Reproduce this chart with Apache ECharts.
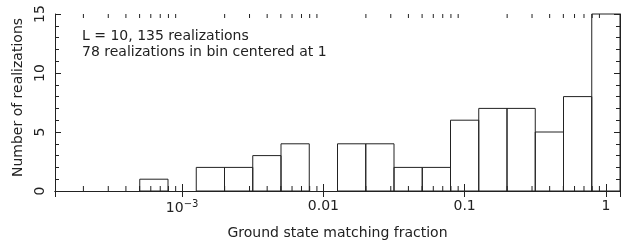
<!DOCTYPE html>
<html>
<head>
<meta charset="utf-8">
<script src="https://cdn.jsdelivr.net/npm/echarts@6/dist/echarts.min.js"></script>
<style>
html, body { margin: 0; padding: 0; background: #fff; }
#chart { width: 623px; height: 241px; }
</style>
</head>
<body>
<div id="chart"></div>
<script>
// bin centres, as log10 of the matching fraction (5 bins per decade)
var binCenters = [-3.2, -3.0, -2.8, -2.6, -2.4, -2.2, -2.0, -1.8, -1.6, -1.4, -1.2, -1.0, -0.8, -0.6, -0.4, -0.2, 0];
var binCounts = [1, 0, 2, 2, 3, 4, 0, 4, 4, 2, 2, 6, 7, 7, 5, 8, 78];
var binHalfWidth = 0.1;
// major x labels, keyed by exponent
var xTickLabels = { '-3': '{b|10}{s|\u22123}', '-2': '0.01', '-1': '0.1', '0': '1' };
var notes = ['L = 10, 135 realizations', '78 realizations in bin centered at 1'];

var font = 'DejaVu Sans';
var fontSize = 14;
var ink = '#222';
var xMin = Math.pow(10, -3.9), xMax = Math.pow(10, 0.1);

// histogram rows: [low edge, high edge, count]
var bins = [];
for (var i = 0; i < binCenters.length; i++) {
    bins.push([Math.pow(10, binCenters[i] - binHalfWidth), Math.pow(10, binCenters[i] + binHalfWidth), binCounts[i]]);
}

// minor ticks of the log axis (2..9 x 10^n)
var minorTicks = [];
for (var n = -4; n <= 0; n++) {
    for (var k = 2; k <= 9; k++) {
        var v = k * Math.pow(10, n);
        if (v > xMin && v < xMax) minorTicks.push([v]);
    }
}

function xLabel(val) {
    var lg = Math.log(val) / Math.LN10;
    var e = Math.round(lg);
    if (Math.abs(lg - e) > 1e-6) return '';
    return xTickLabels[String(e)] || '';
}

var lineStyle = { color: ink, width: 1 };

var option = {
    animation: false,
    backgroundColor: '#fff',
    grid: { left: 55, right: 3, top: 14, bottom: 50, containLabel: false, outerBoundsMode: 'none' },
    xAxis: [
        {
            type: 'log', logBase: 10, min: xMin, max: xMax,
            name: 'Ground state matching fraction', nameLocation: 'middle', nameGap: 35,
            nameTextStyle: { fontFamily: font, fontSize: fontSize, color: ink },
            axisLine: { lineStyle: lineStyle },
            axisTick: { inside: true, length: 7, lineStyle: lineStyle },
            axisLabel: {
                formatter: xLabel, margin: 8, fontFamily: font, fontSize: fontSize, color: ink,
                rich: {
                    b: { fontFamily: font, fontSize: fontSize, color: ink },
                    s: { fontFamily: font, fontSize: 10, color: ink, verticalAlign: 'bottom', padding: [0, 0, 8, 0] }
                }
            },
            splitLine: { show: false }
        },
        {
            type: 'log', logBase: 10, min: xMin, max: xMax, position: 'top',
            axisLine: { lineStyle: lineStyle },
            axisTick: { inside: true, length: 6, lineStyle: lineStyle },
            axisLabel: { show: false },
            splitLine: { show: false }
        }
    ],
    yAxis: [
        {
            type: 'value', min: 0, max: 15, interval: 5,
            name: 'Number of realizations', nameLocation: 'middle', nameGap: 30,
            nameTextStyle: { fontFamily: font, fontSize: fontSize, color: ink, padding: [0, 0, 0, 10] },
            axisLine: { show: true, lineStyle: lineStyle },
            axisTick: { inside: true, length: 6, lineStyle: lineStyle },
            minorTick: { show: true, splitNumber: 5, length: 4, lineStyle: lineStyle },
            axisLabel: { rotate: 90, margin: 8, fontFamily: font, fontSize: fontSize, color: ink },
            splitLine: { show: false }
        },
        {
            type: 'value', min: 0, max: 15, interval: 5, position: 'right',
            axisLine: { show: true, lineStyle: lineStyle },
            axisTick: { inside: true, length: 6, lineStyle: lineStyle },
            minorTick: { show: true, splitNumber: 5, length: 4, lineStyle: lineStyle },
            axisLabel: { show: false },
            splitLine: { show: false }
        }
    ],
    graphic: [
        { type: 'text', left: 82, top: 29, style: { text: notes[0], font: fontSize + 'px "' + font + '"', fill: ink } },
        { type: 'text', left: 82, top: 45, style: { text: notes[1], font: fontSize + 'px "' + font + '"', fill: ink } }
    ],
    series: [
        {
            type: 'custom',
            data: bins,
            renderItem: function (params, api) {
                var count = api.value(2);
                if (!count) return;
                var p0 = api.coord([api.value(0), count]);
                var p1 = api.coord([api.value(1), 0]);
                var rect = echarts.graphic.clipRectByRect({
                    x: p0[0], y: p0[1], width: p1[0] - p0[0], height: p1[1] - p0[1]
                }, params.coordSys);
                if (!rect) return;
                return { type: 'rect', shape: rect, style: { fill: 'none', stroke: ink, lineWidth: 1 } };
            }
        },
        {
            type: 'custom',
            data: minorTicks,
            renderItem: function (params, api) {
                var x = api.coord([api.value(0), 0])[0];
                var cs = params.coordSys;
                return {
                    type: 'group',
                    children: [
                        { type: 'line', shape: { x1: x, y1: cs.y + cs.height, x2: x, y2: cs.y + cs.height - 5 }, style: { stroke: ink, lineWidth: 1 } },
                        { type: 'line', shape: { x1: x, y1: cs.y, x2: x, y2: cs.y + 4 }, style: { stroke: ink, lineWidth: 1 } }
                    ]
                };
            }
        }
    ]
};

var chart = echarts.init(document.getElementById('chart'));
chart.setOption(option);
</script>
</body>
</html>
